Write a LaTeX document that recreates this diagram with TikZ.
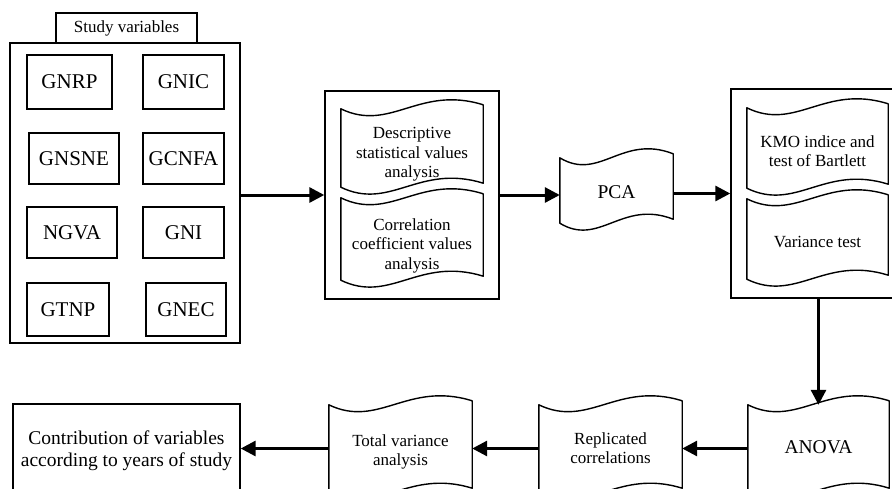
\documentclass[tikz,border=0pt]{standalone}
\usepackage{fontspec}
\setmainfont{Liberation Serif}
\usetikzlibrary{arrows.meta,calc}
\tikzset{
  box/.style={draw, line width=1.4pt, inner sep=0pt},
  tape/.style={inner sep=0pt},
  tapeline/.style={line width=1.4pt, line join=round},
  flow/.style={line width=3pt, -{Triangle[length=15pt,width=15pt]}},
  varbox/.style={box, font=\fontsize{21}{24}\selectfont},
  tabtxt/.style={font=\fontsize{17}{20}\selectfont},
  doctxt/.style={tape, font=\fontsize{17}{19.5}\selectfont},
  bigtxt/.style={font=\fontsize{19.5}{22}\selectfont},
}
% node given by its corners: [style]{name}{x0}{y0}{x1}{y1}{text}
\newcommand\rnode[7][]{\node[#1, minimum width={(#5)-(#3)}, minimum height={(#6)-(#4)}] (#2) at ({((#3)+(#5))/2},{((#4)+(#6))/2}) {#7};}
% text lowered inside a node without changing the node size
\newcommand\lowtext[2]{\raisebox{-#1pt}[0pt][0pt]{\begin{tabular}{@{}c@{}}#2\end{tabular}}}
% wavy (tape) outline drawn on the corners of a node: {name}{width}
\newcommand\wavy[2]{%
  \draw[tapeline] (#1.north west)
    .. controls ([xshift={0.35*#2}, yshift=-24]#1.north west) and ([xshift={0.55*#2}, yshift=24]#1.north west) .. ([yshift=4]#1.north east)
    -- ([yshift=4]#1.south east)
    .. controls ([xshift={0.55*#2}, yshift=24]#1.south west) and ([xshift={0.35*#2}, yshift=-24]#1.south west) .. (#1.south west)
    -- cycle;}
\begin{document}
\begin{tikzpicture}[x=1pt, y=-1pt]
  \clip (0,0) rectangle (892,488);

  % Study variables
  \rnode[box, tabtxt]{svtab}{56}{13}{197}{43}{Study variables}
  \rnode[box]{sv}{10}{43}{240}{343}{}
  \rnode[varbox]{gnrp}{27}{55}{112}{109}{GNRP}
  \rnode[varbox]{gnic}{143}{55}{224}{109}{GNIC}
  \rnode[varbox]{gnsne}{29}{133}{119}{184}{GNSNE}
  \rnode[varbox]{gcnfa}{143}{133}{224}{184}{GCNFA}
  \rnode[varbox]{ngva}{27}{207}{117}{258}{NGVA}
  \rnode[varbox]{gni}{143}{207}{224}{258}{GNI}
  \rnode[varbox]{gtnp}{27}{283}{109}{336}{GTNP}
  \rnode[varbox]{gnec}{146}{283}{226}{336}{GNEC}

  % Descriptive / correlation box
  \rnode[box]{box2}{325}{91}{499}{299}{}
  \rnode[doctxt]{desc}{341}{109}{483}{187}{\lowtext{10.5}{Descriptive\\statistical values\\analysis}}
  \wavy{desc}{142}
  \rnode[doctxt]{corr}{341}{198}{483}{280}{\lowtext{11}{Correlation\\coefficient values\\analysis}}
  \wavy{corr}{142}

  % PCA
  \rnode[tape, bigtxt]{pca}{560}{158}{673}{223}{\lowtext{8.5}{PCA}}
  \wavy{pca}{113}

  % KMO / variance box
  \rnode[box]{box3}{731}{89}{905}{298}{}
  \rnode[doctxt]{kmo}{747}{108}{888}{188}{\lowtext{9.5}{KMO indice and\\test of Bartlett}}
  \wavy{kmo}{141}
  \rnode[doctxt]{vart}{747}{199}{888}{279}{\lowtext{8.5}{Variance test}}
  \wavy{vart}{141}

  % bottom row
  \rnode[tape, bigtxt]{anova}{748}{405}{889}{492}{\lowtext{6}{ANOVA}}
  \wavy{anova}{141}
  \rnode[doctxt]{repl}{539}{405}{682}{492}{\lowtext{6}{Replicated\\correlations}}
  \wavy{repl}{143}
  \rnode[doctxt]{totv}{329}{405}{472}{492}{\lowtext{8}{Total variance\\analysis}}
  \wavy{totv}{143}
  \rnode[box, bigtxt]{contr}{13}{404}{240}{493}{\lowtext{8}{Contribution of variables\\according to years of study}}

  % connectors
  \draw[flow] (sv.east |- box2.west) -- (box2.west);
  \draw[flow] (box2.east) -- (pca.west |- box2.east);
  \draw[flow] (pca.east |- box3.west) -- (box3.west);
  \draw[flow] (box3.south -| anova.north) -- (anova.north);
  \draw[flow] (anova.west) -- (repl.east);
  \draw[flow] (repl.west) -- (totv.east);
  \draw[flow] (totv.west) -- (contr.east);
\end{tikzpicture}
\end{document}
